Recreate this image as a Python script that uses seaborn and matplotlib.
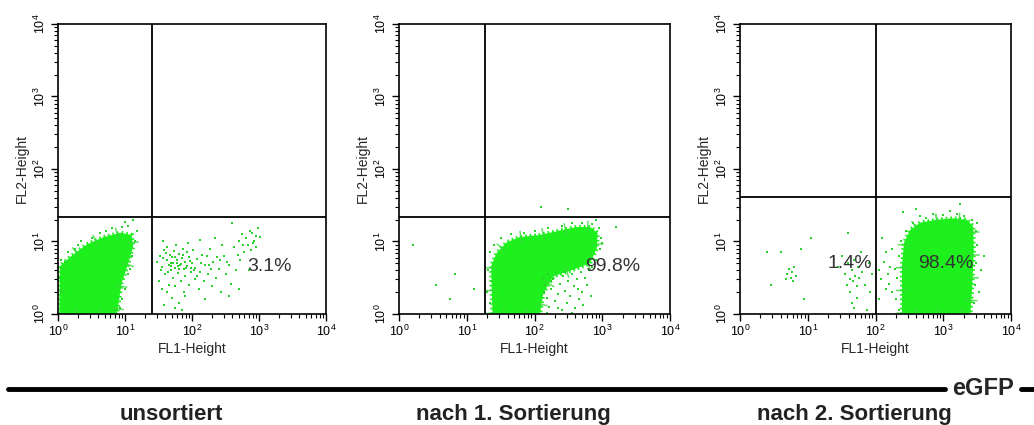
import numpy as np
import pandas as pd
import matplotlib
matplotlib.use("Agg")
import matplotlib.pyplot as plt
from matplotlib.lines import Line2D
import seaborn as sns

sns.set_style("white")
plt.rcParams['font.family'] = ['Liberation Sans', 'DejaVu Sans']

# Values are log10 decades (FL1 = x, FL2 = y)
titles = ["unsortiert", "nach 1. Sortierung", "nach 2. Sortierung"]
gate_x = [1.40, 1.27, 2.00]
gate_y = [1.34, 1.34, 1.61]
pct_labels = [["3.1%"], ["99.8%"], ["1.4%", "98.4%"]]
pct_x = [[3.16], [3.16], [1.62, 3.03]]
pct_y = [[0.65], [0.65], [0.70, 0.70]]

# outline of the dense cell population in each panel
core1_x = [0.02, 0.03, 0.20, 0.43, 0.68, 0.93, 1.10, 1.12, 1.05, 0.95, 0.88]
core1_y = [0.00, 0.66, 0.80, 0.96, 1.06, 1.12, 1.09, 0.93, 0.70, 0.43, 0.00]
core2_x = [1.38, 1.36, 1.44, 1.59, 1.78, 2.08, 2.37, 2.62, 2.82, 2.93, 2.92, 2.82, 2.57, 2.28, 2.13, 2.08]
core2_y = [0.00, 0.66, 0.84, 0.99, 1.06, 1.09, 1.15, 1.20, 1.20, 1.12, 0.91, 0.70, 0.61, 0.52, 0.29, 0.00]
core3_x = [2.39, 2.39, 2.42, 2.51, 2.66, 2.91, 3.15, 3.35, 3.44, 3.45, 3.43, 3.40]
core3_y = [0.00, 0.66, 0.98, 1.16, 1.26, 1.30, 1.32, 1.30, 1.21, 0.89, 0.43, 0.00]

# single events (sparse dots)
dots1_x = [0.05, 0.10, 0.15, 0.25, 0.35, 0.50, 0.62, 0.80, 0.95, 1.05, 1.12, 1.18, 1.15, 1.10, 1.05,
           1.00, 0.95, 0.92, 0.85, 1.08, 0.02, 0.04, 1.00, 0.30, 0.72,
           1.48, 1.52, 1.55, 1.58, 1.60, 1.62, 1.63, 1.65, 1.67, 1.68, 1.70, 1.71, 1.72, 1.73, 1.75,
           1.76, 1.78, 1.79, 1.80, 1.82, 1.83, 1.85, 1.86, 1.88, 1.89, 1.90, 1.92, 1.93, 1.95, 1.96,
           1.98, 2.00, 2.02, 2.04, 2.05, 2.08, 2.10, 2.12, 2.15, 2.18, 2.20, 2.24, 2.27, 2.30, 2.32,
           2.36, 2.40, 2.44, 2.47, 2.50, 2.55, 2.58, 2.62, 2.65, 2.70, 2.72, 2.75, 2.78, 2.80, 2.83,
           2.86, 2.88, 2.90, 2.93, 2.96, 2.98, 3.02, 2.70, 2.55, 1.62, 1.70, 1.75, 1.80, 1.85, 1.90,
           1.58, 1.66, 1.55, 1.50, 2.35, 2.60, 2.20, 2.85, 1.74, 1.94, 1.57, 2.45, 2.12, 1.88,
           1.53, 1.61, 1.64, 1.69, 1.74, 1.77, 1.81, 1.84, 1.87, 1.91, 1.97, 2.03, 2.07, 2.14, 2.22,
           2.29, 2.38, 2.52, 2.68, 2.76, 2.91, 2.95, 1.56, 1.68, 1.79, 1.99, 2.26, 2.42]
dots1_y = [0.75, 0.72, 0.85, 0.90, 1.00, 1.05, 1.12, 1.18, 1.20, 1.22, 1.30, 1.15, 1.00, 0.80, 0.55,
           0.35, 0.20, 0.08, 0.05, 0.62, 0.50, 0.30, 1.27, 0.95, 1.14,
           0.72, 0.80, 0.65, 0.88, 0.55, 0.75, 0.92, 0.68, 0.82, 0.60, 0.78, 0.50, 0.70, 0.87, 0.64,
           0.95, 0.74, 0.56, 0.83, 0.68, 0.45, 0.77, 0.90, 0.62, 0.72, 0.52, 0.85, 0.66, 0.40, 0.78,
           0.58, 0.70, 0.88, 0.48, 0.63, 0.76, 0.35, 0.58, 0.82, 0.45, 0.67, 0.55, 0.90, 0.38, 0.72,
           0.50, 0.62, 0.30, 0.80, 0.55, 0.68, 0.42, 0.92, 0.60, 1.00, 0.75, 1.10, 0.85, 1.05, 0.95,
           1.15, 0.88, 1.12, 1.00, 0.92, 1.18, 1.06, 0.35, 0.25, 0.30, 0.22, 0.08, 0.15, 0.05, 0.25,
           0.12, 0.40, 0.35, 0.45, 1.05, 1.25, 0.20, 0.60, 0.38, 0.98, 1.00, 0.95, 1.02, 0.30,
           0.60, 0.84, 0.58, 0.66, 0.79, 0.71, 0.62, 0.69, 0.81, 0.63, 0.73, 0.61, 0.53, 0.70, 0.80,
           0.62, 0.78, 0.72, 0.82, 0.95, 0.98, 1.08, 0.77, 0.70, 0.66, 0.64, 0.68, 0.74]
dots2_x = [1.30, 1.32, 1.34, 1.40, 1.50, 1.65, 1.85, 2.00, 2.20, 2.40, 2.55, 2.70, 2.85, 2.95, 2.98,
           2.96, 2.90, 2.85, 1.35, 1.36, 2.90, 3.00,
           2.12, 2.15, 2.18, 2.20, 2.22, 2.25, 2.28, 2.30, 2.32, 2.35, 2.38, 2.40, 2.42, 2.45, 2.48,
           2.50, 2.52, 2.55, 2.58, 2.60, 2.62, 2.65, 2.68, 2.70, 2.72, 2.75, 2.78, 2.80, 2.83, 2.18,
           2.35, 2.55, 2.14, 2.24, 2.44, 2.64,
           0.55, 0.75, 0.82, 1.10, 3.20, 2.50, 0.20, 2.10]
dots2_y = [0.30, 0.60, 0.85, 0.95, 1.05, 1.10, 1.12, 1.15, 1.18, 1.22, 1.25, 1.26, 1.24, 1.18, 1.05,
           0.90, 0.75, 0.65, 0.15, 0.45, 1.30, 0.98,
           0.50, 0.40, 0.22, 0.55, 0.10, 0.35, 0.48, 0.18, 0.58, 0.28, 0.42, 0.05, 0.52, 0.32, 0.15,
           0.45, 0.25, 0.55, 0.38, 0.08, 0.48, 0.20, 0.58, 0.30, 0.12, 0.50, 0.40, 0.60, 0.25, 0.02,
           0.08, 0.02, 0.30, 0.45, 0.58, 0.35,
           0.40, 0.20, 0.55, 0.35, 1.20, 1.45, 0.95, 1.48]
dots3_x = [2.30, 2.32, 2.35, 2.38, 2.45, 2.55, 2.65, 2.75, 2.85, 3.00, 3.10, 3.20, 3.30, 3.42, 3.48,
           3.50, 3.48, 3.47, 3.46, 2.34, 2.28, 3.50, 2.60, 3.25, 2.40,
           0.70, 0.72, 0.75, 0.77, 0.80, 0.78, 0.68, 0.82, 0.60, 0.90, 0.45, 0.40, 1.05, 0.95,
           1.55, 1.58, 1.60, 1.62, 1.63, 1.65, 1.66, 1.68, 1.70, 1.72, 1.74, 1.76, 1.78, 1.65, 1.68,
           1.72, 1.50, 1.80, 1.85, 1.90, 1.95, 1.60, 1.92, 1.45, 1.88,
           2.05, 2.08, 2.12, 2.15, 2.18, 2.20, 2.22, 2.25, 2.15, 2.10, 2.05, 2.25,
           3.55, 3.60, 3.52]
dots3_y = [0.20, 0.50, 0.80, 1.00, 1.15, 1.25, 1.35, 1.32, 1.38, 1.36, 1.42, 1.38, 1.35, 1.30, 1.15,
           0.95, 0.70, 0.40, 0.15, 0.05, 0.62, 1.25, 1.45, 1.52, 1.40,
           0.55, 0.62, 0.50, 0.58, 0.65, 0.45, 0.48, 0.52, 0.85, 0.90, 0.40, 0.85, 1.05, 0.20,
           0.55, 0.40, 0.70, 0.48, 0.30, 0.60, 0.45, 0.75, 0.52, 0.38, 0.65, 0.50, 0.85, 0.15, 0.08,
           0.22, 0.80, 0.58, 0.40, 0.70, 0.55, 1.12, 0.30, 0.65, 0.05,
           0.60, 0.48, 0.72, 0.35, 0.55, 0.42, 0.65, 0.30, 0.85, 1.05, 0.20, 0.90,
           0.60, 0.80, 0.30]

cores = [(core1_x, core1_y), (core2_x, core2_y), (core3_x, core3_y)]
dots = [(dots1_x, dots1_y), (dots2_x, dots2_y), (dots3_x, dots3_y)]

green = "#1df01d"
fig = plt.figure(figsize=(10.34, 4.25), dpi=100)
lefts = [0.0561, 0.3859, 0.7157]
widths = [0.2592, 0.2621, 0.2621]

for i in range(3):
    ax = fig.add_axes([lefts[i], 0.2612, widths[i], 0.6824])
    cx, cy = cores[i]
    px, py = 10 ** np.array(cx), 10 ** np.array(cy)
    ax.fill(px, py, color=green, lw=0, zorder=2)
    # ragged rim of the population
    ax.fill(px, py, facecolor="none", edgecolor=green, lw=3,
            linestyle=(0, (0.4, 0.7)), zorder=2)
    ax.fill(px, py, facecolor="none", edgecolor="#3ad83a", lw=9,
            linestyle=(0, (0.12, 1.7)), alpha=0.8, zorder=2)
    df = pd.DataFrame({"FL1": 10 ** np.array(dots[i][0]), "FL2": 10 ** np.array(dots[i][1])})
    sns.scatterplot(data=df, x="FL1", y="FL2", ax=ax, color="#2bd22b", s=3,
                    marker="s", linewidth=0, zorder=2)
    ax.set_xscale("log")
    ax.set_yscale("log")
    ax.set_xlim(1, 1e4)
    ax.set_ylim(1, 1e4)
    ax.axvline(10 ** gate_x[i], color="black", lw=1.3, zorder=3)
    ax.axhline(10 ** gate_y[i], color="black", lw=1.3, zorder=3)
    for lab, tx, ty in zip(pct_labels[i], pct_x[i], pct_y[i]):
        ax.text(10 ** tx, 10 ** ty, lab, fontsize=14, color="#333333",
                ha="center", va="center", zorder=4)
    for sp in ax.spines.values():
        sp.set_color("black")
        sp.set_linewidth(1.2)
        sp.set_zorder(5)
    ax.tick_params(which="both", direction="out", left=True, bottom=True,
                   labelsize=9, colors="black", pad=2)
    ax.tick_params(which="major", length=5, width=1)
    ax.tick_params(which="minor", length=3, width=0.8)
    ax.set_xticks([1, 10, 100, 1000, 10000])
    ax.set_yticks([1, 10, 100, 1000, 10000])
    for t in ax.get_yticklabels():
        t.set_rotation(90)
        t.set_va("center")
    ax.set_xlabel("FL1-Height", fontsize=10, labelpad=2)
    ax.set_ylabel("FL2-Height", fontsize=10, labelpad=3)
    fig.text(lefts[i] + widths[i] / 2 - 0.02, 0.024, titles[i], fontsize=16,
             fontweight="bold", ha="center", va="center", color="#222222")

# eGFP axis line under the panels
fig.add_artist(Line2D([0.008, 0.914], [0.084, 0.084], color="black", lw=3.5))
fig.add_artist(Line2D([0.987, 1.0], [0.084, 0.084], color="black", lw=3.5))
fig.text(0.951, 0.086, "eGFP", fontsize=17, fontweight="bold", ha="center", va="center")

fig.savefig("out.png", dpi=100)
